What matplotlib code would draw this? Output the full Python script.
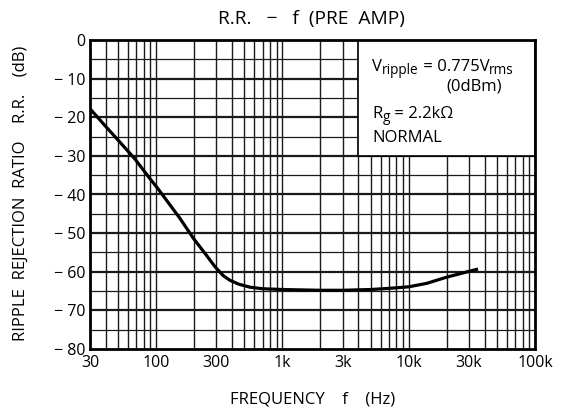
import matplotlib
matplotlib.use("Agg")
import matplotlib.pyplot as plt
from matplotlib.patches import Rectangle
from matplotlib.transforms import offset_copy

# curve (Hz, dB)
freq_hz = [30, 40, 50, 67.6, 89, 103, 154, 197, 250, 293, 340, 384, 450, 554,
           700, 1000, 2000, 3000, 5000, 7000, 10000, 13900, 20000, 34400]
rr_db = [-17.8, -22.4, -25.9, -30.7, -35.8, -38.4, -46.1, -51.3, -55.7, -58.7,
         -61.0, -62.2, -63.2, -64.0, -64.4, -64.6, -64.8, -64.8, -64.6, -64.3,
         -63.9, -63.0, -61.4, -59.4]

x_ticks = [30, 100, 300, 1000, 3000, 10000, 30000, 100000]
x_ticklabels = ["30", "100", "300", "1k", "3k", "10k", "30k", "100k"]
y_ticks = [0, -10, -20, -30, -40, -50, -60, -70, -80]
y_ticklabels = ["0"] + ["\u2212 %d" % abs(v) for v in y_ticks[1:]]

plt.rcParams["font.family"] = ["Open Sans", "DejaVu Sans"]

fig = plt.figure(figsize=(5.62, 4.15), dpi=100)
ax = fig.add_axes([90 / 562, 1 - 349 / 415, 445 / 562, 309 / 415])

ax.set_xscale("log")
ax.set_xlim(30, 100000)
ax.set_ylim(-80, 0)

# grid: 1..9 per decade vertically, every 5 dB horizontally
vlines = [m * 10 ** d for d in range(1, 5) for m in range(1, 10)]
vlines = [v for v in vlines if 30 < v < 100000]
for v in vlines:
    ax.axvline(v, color="#1a1a1a", lw=1.0, zorder=1)
for h in range(-75, 0, 5):
    ax.axhline(h, color="#1a1a1a", lw=1.6 if h % 10 == 0 else 0.9, zorder=1)

# condition box (upper right, covers the grid)
ax.add_patch(Rectangle((4000, -30), 100000 - 4000, 30, facecolor="white",
                       edgecolor="black", lw=1.2, zorder=3))

ax.plot(freq_hz, rr_db, color="black", lw=2.3, zorder=4)

ax.set_xticks(x_ticks)
ax.set_xticklabels(x_ticklabels)
ax.set_xticks([], minor=True)
ax.set_yticks(y_ticks)
ax.set_yticklabels(y_ticklabels)
ax.tick_params(length=0, labelsize=11.5, pad=3)
ax.tick_params(axis="x", pad=4)
for s in ax.spines.values():
    s.set_linewidth(2.0)
    s.set_zorder(5)


def rich_text(x, y, parts, fs=12):
    # draw text pieces in a row; subscripts a bit smaller and lowered
    renderer = fig.canvas.get_renderer()
    dx = 0.0
    for txt, sub in parts:
        size = fs * 0.82 if sub else fs
        dy = -3.0 if sub else 0.0
        tr = offset_copy(ax.transAxes, fig=fig, x=dx, y=dy, units="dots")
        t = ax.text(x, y, txt, transform=tr, fontsize=size, va="baseline",
                    zorder=6)
        dx += t.get_window_extent(renderer).width


rich_text(0.634, 0.900, [("V", False), ("ripple", True),
                         (" = 0.775V", False), ("rms", True)])
ax.text(0.80, 0.838, "(0dBm)", transform=ax.transAxes, fontsize=12,
        va="baseline", zorder=6)
rich_text(0.634, 0.748, [("R", False), ("g", True), (" = 2.2k\u03a9", False)])
ax.text(0.634, 0.670, "NORMAL", transform=ax.transAxes, fontsize=12,
        va="baseline", zorder=6)

fig.text(311 / 562, 1 - 19 / 415, "R.R.   \u2212   f  (PRE  AMP)", fontsize=13.8,
         ha="center", va="center")
fig.text(313 / 562, 1 - 399 / 415, "FREQUENCY    f    (Hz)", fontsize=12,
         ha="center", va="center")
fig.text(21 / 562, 1 - 193 / 415, "RIPPLE  REJECTION  RATIO    R.R.    (dB)",
         fontsize=12, ha="center", va="center", rotation=90)

fig.savefig("out.png", dpi=100)
